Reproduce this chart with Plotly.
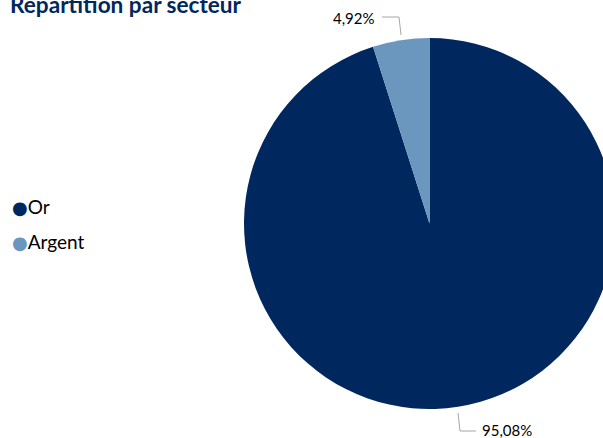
import plotly.graph_objects as go

# ---- data ----
categories = ["Or", "Argent"]
shares = [95.08, 4.92]
label_texts = ["95,08%", "4,92%"]
title_text = "Répartition par secteur"

# ---- style ----
colors = ["#00285e", "#6b97bf"]
W, H = 615, 438
ML, MR, MT, MB = 0, 0, 38, 29
PW, PH = W - ML - MR, H - MT - MB
FONT = "Lato"


def px_x(x):
    return (x - ML) / PW


def px_y(y):
    return (H - MB - y) / PH


fig = go.Figure()
fig.add_trace(go.Pie(
    labels=categories,
    values=shares,
    sort=False,
    direction="clockwise",
    rotation=0,
    marker=dict(colors=colors, line=dict(width=0)),
    textinfo="none",
    hoverinfo="label+percent",
    showlegend=False,
    domain=dict(x=[1 - PH / PW, 1], y=[0, 1]),
))

# legend entries: circle key drawn as a coloured dot in the entry text
for i, (cat, col) in enumerate(zip(categories, colors)):
    fig.add_trace(go.Scatter(
        x=[None], y=[None], mode="markers",
        name=(f"<span style='color:{col};font-family:DejaVu Sans;font-size:18px'>●</span>"
              f"{cat}"),
        marker=dict(symbol="circle", size=1, color="rgba(0,0,0,0)"),
        legend="legend" if i == 0 else "legend2",
        showlegend=True,
    ))

legend_style = dict(
    font=dict(family=FONT, size=19, color="#000000"),
    bgcolor="rgba(0,0,0,0)", borderwidth=0,
    xanchor="left", yanchor="middle",
)
fig.update_layout(
    legend=dict(x=px_x(-28), y=px_y(207), **legend_style),
    legend2=dict(x=px_x(-28), y=px_y(242), **legend_style),
)

# data labels with elbow leader lines (pixel layout positions)
label_layout = {
    "4,92%": dict(text_x=354, text_y=18, line=[(382, 17), (399, 17), (401, 35)]),
    "95,08%": dict(text_x=507, text_y=430, line=[(458, 413), (460, 431), (476, 431)]),
}
for txt in label_texts:
    L = label_layout[txt]
    fig.add_annotation(
        x=px_x(L["text_x"]), y=px_y(L["text_y"]), xref="paper", yref="paper",
        text=txt, showarrow=False, xanchor="center", yanchor="middle",
        font=dict(family=FONT, size=15, color="#000000"),
    )
    pts = L["line"]
    path = "M " + " L ".join(f"{px_x(a)},{px_y(b)}" for a, b in pts)
    fig.add_shape(type="path", path=path, xref="paper", yref="paper",
                  line=dict(color="#a6a6a6", width=1))

# title (clipped at top as in reference)
fig.add_annotation(
    x=px_x(8), y=px_y(5), xref="paper", yref="paper",
    text=f"<b>{title_text}</b>", showarrow=False,
    xanchor="left", yanchor="middle",
    font=dict(family=FONT, size=22.6, color="#00285e"),
)

fig.update_layout(
    width=W, height=H,
    margin=dict(l=ML, r=MR, t=MT, b=MB, autoexpand=False),
    paper_bgcolor="white", plot_bgcolor="white",
    xaxis=dict(visible=False), yaxis=dict(visible=False),
)

fig.write_html("out.html")
